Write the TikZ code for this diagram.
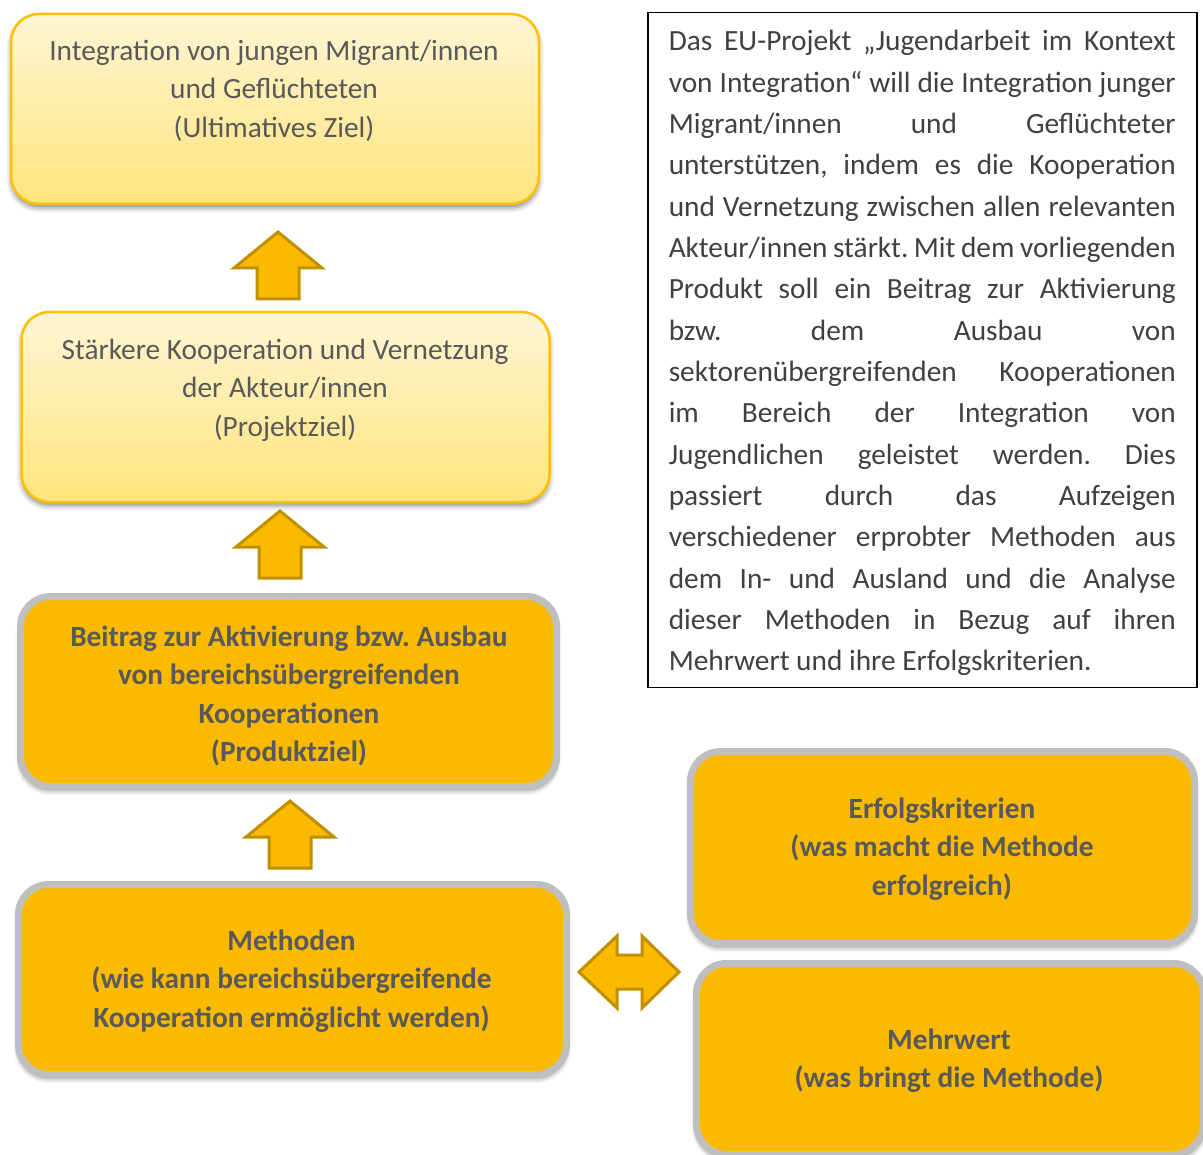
\documentclass[tikz,border=0pt]{standalone}
\usepackage{fontspec}
\setmainfont{Carlito}
\usetikzlibrary{shadows.blur}
\newdimen\px \px=0.75pt
\definecolor{amber}{HTML}{FBBA00}
\definecolor{lighttop}{HTML}{FFF5D4}
\definecolor{lightbot}{HTML}{FFE47C}
\definecolor{orangeedge}{HTML}{FFC000}
\definecolor{grayedge}{HTML}{BFBFBF}
\definecolor{boxtext}{HTML}{595959}
\definecolor{bodytext}{HTML}{404040}
\definecolor{arrowedge}{HTML}{BF9000}
\definecolor{arrowfill}{HTML}{FBBA00}
\frenchspacing
\newcommand\justline[1]{\hbox to 549\px{\hskip21\px\makebox[507\px][s]{#1}\hss}}
\newcommand\firstjustline[1]{\hbox to 549\px{\hskip21\px\vrule height38\px width0pt\makebox[507\px][s]{#1}\hss}}
\newcommand\lastline[1]{\hbox to 549\px{\hskip21\px #1\vrule depth17\px width0pt\hss}}
\begin{document}
\begin{tikzpicture}[x=0.75pt,y=-0.75pt,
 shadowed/.style={blur shadow={shadow xshift=0pt, shadow yshift=-4\px, shadow blur radius=5\px, shadow opacity=45}},
 lightbox/.style={shape=rectangle, rounded corners=28\px, draw=orangeedge, line width=2.5\px, top color=lighttop, bottom color=lightbot, shadowed, inner sep=0pt},
 ambox/.style={shape=rectangle, rounded corners=30\px, draw=grayedge, line width=7\px, fill=amber, shadowed, inner sep=0pt},
 lighttxt/.style={anchor=north, inner sep=0pt, align=center, text=boxtext, font=\fontsize{22pt}{28.9pt}\selectfont},
 amtxt/.style={anchor=north, inner sep=0pt, align=center, text=boxtext, font=\fontsize{22pt}{28.9pt}\selectfont\bfseries},
 blockarrow/.style={fill=arrowfill, draw=arrowedge, line width=3\px, line join=miter},
 uparrow/.pic={\draw[blockarrow] (0,0) -- (44,36) -- (21,36) -- (21,67) -- (-21,67) -- (-21,36) -- (-44,36) -- cycle;},
]
\useasboundingbox (0,0) rectangle (1203,1155);

% left column boxes
\node[lightbox, minimum width=528\px, minimum height=190\px] (b1) at (275,109) {};
\node[lighttxt] (t1) at (274,32) {\rule{0pt}{28\px}Integration von jungen Migrant/innen\\und Geflüchteten\\(Ultimatives Ziel)};

\node[lightbox, minimum width=528\px, minimum height=190\px] (b2) at (285.5,407) {};
\node[lighttxt] (t2) at (285,331) {\rule{0pt}{28\px}Stärkere Kooperation und Vernetzung\\der Akteur/innen\\(Projektziel)};

\node[ambox, minimum width=536\px, minimum height=190\px] (b3) at (288.5,691.5) {};
\node[amtxt] (t3) at (289,618) {\rule{0pt}{28\px}Beitrag zur Aktivierung bzw. Ausbau\\von bereichsübergreifenden\\Kooperationen\\(Produktziel)};

\node[ambox, minimum width=548\px, minimum height=190\px] (b4) at (292.5,979.5) {};
\node[amtxt] (t4) at (291.5,922) {\rule{0pt}{28\px}Methoden\\(wie kann bereichsübergreifende\\Kooperation ermöglicht werden)};

% right column boxes
\node[ambox, minimum width=504\px, minimum height=192\px] (b5) at (942.5,847.5) {};
\node[amtxt] (t5) at (942,790) {\rule{0pt}{28\px}Erfolgskriterien\\(was macht die Methode\\erfolgreich)};

\node[ambox, minimum width=507\px, minimum height=191\px] (b6) at (950,1059) {};
\node[amtxt] (t6) at (949,1021) {\rule{0pt}{28\px}Mehrwert\\(was bringt die Methode)};

% block arrows
\pic at (278,232) {uparrow};
\pic at (280,511) {uparrow};
\pic at (290,801) {uparrow};
\draw[blockarrow] (579,972) -- (617,936) -- (617,955) -- (642,955) -- (642,936) -- (679,972)
  -- (642,1008) -- (642,989) -- (617,989) -- (617,1008) -- cycle;

% description text
\node[draw=black, line width=1.5\px, inner sep=0pt, anchor=north west, text=bodytext,
      font=\fontsize{22pt}{31pt}\selectfont] (desc) at (647,12) {\vbox{\baselineskip=41.33\px \lineskiplimit=-1000pt \lineskip=0pt
\firstjustline{Das EU-Projekt „Jugendarbeit im Kontext}
\justline{von Integration“ will die Integration junger}
\justline{Migrant/innen und Geflüchteter}
\justline{unterstützen, indem es die Kooperation}
\justline{und Vernetzung zwischen allen relevanten}
\justline{Akteur/innen stärkt. Mit dem vorliegenden}
\justline{Produkt soll ein Beitrag zur Aktivierung}
\justline{bzw. dem Ausbau von}
\justline{sektorenübergreifenden Kooperationen}
\justline{im Bereich der Integration von}
\justline{Jugendlichen geleistet werden. Dies}
\justline{passiert durch das Aufzeigen}
\justline{verschiedener erprobter Methoden aus}
\justline{dem In- und Ausland und die Analyse}
\justline{dieser Methoden in Bezug auf ihren}
\lastline{Mehrwert und ihre Erfolgskriterien.}}};
\end{tikzpicture}
\end{document}
